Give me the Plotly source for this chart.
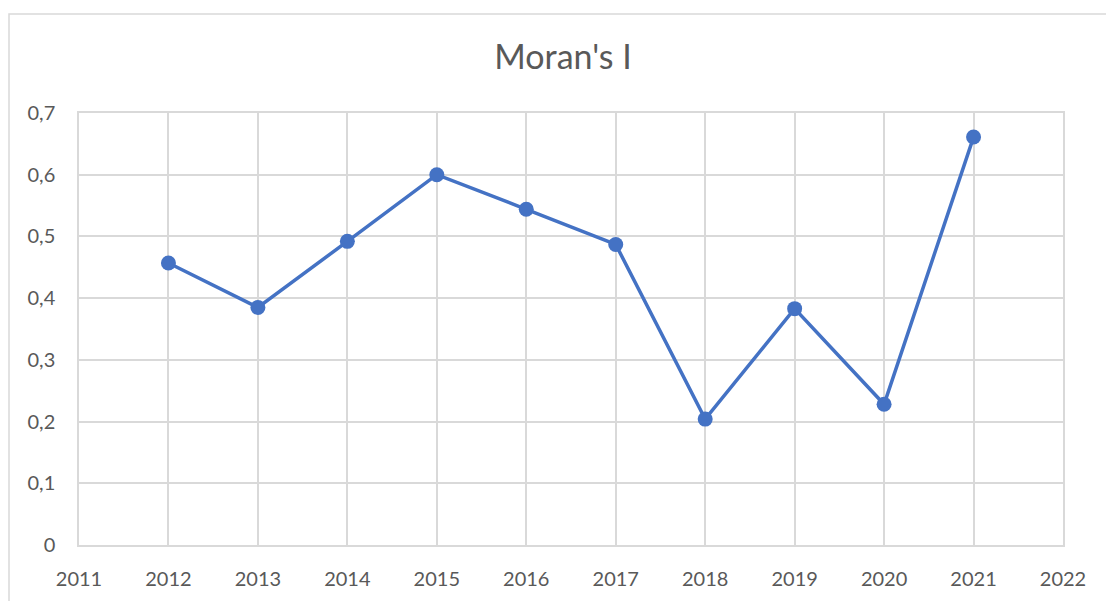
import plotly.graph_objects as go

years = [2012, 2013, 2014, 2015, 2016, 2017, 2018, 2019, 2020, 2021]
morans_i = [0.457, 0.385, 0.492, 0.600, 0.544, 0.487, 0.204, 0.383, 0.228, 0.661]
x_ticks = list(range(2011, 2023))
y_ticks = [0, 0.1, 0.2, 0.3, 0.4, 0.5, 0.6, 0.7]

W, H = 1106, 601
L, R, T, B = 79, 43, 113, 56
pw, ph = W - L - R, H - T - B

fig = go.Figure()
fig.add_trace(go.Scatter(
    x=years, y=morans_i, mode="lines+markers",
    line=dict(color="#4472C4", width=3.5),
    marker=dict(color="#4472C4", size=15),
    showlegend=False,
))

grid = "#d9d9d9"
fig.update_layout(
    width=W, height=H,
    margin=dict(l=L, r=R, t=T, b=B, autoexpand=False),
    paper_bgcolor="white", plot_bgcolor="white",
    separators=",.",
    font=dict(family="Lato, sans-serif", color="#595959", size=20),
    title=dict(text="Moran's I", x=563 / W, xanchor="center",
               y=1 - 57 / H, yanchor="middle",
               font=dict(size=34, color="#595959")),
    xaxis=dict(range=[2011, 2022], tickvals=x_ticks, ticktext=[str(v) for v in x_ticks],
               showgrid=True, gridcolor=grid, gridwidth=1.5,
               showline=True, linecolor=grid, linewidth=1.5, mirror=True,
               zeroline=False, ticks="", ticklabelstandoff=15, fixedrange=True),
    yaxis=dict(range=[0, 0.7], tickvals=y_ticks, tickformat=".1~f",
               showgrid=True, gridcolor=grid, gridwidth=1.5,
               showline=True, linecolor=grid, linewidth=1.5, mirror=True,
               zeroline=False, ticks="", ticklabelstandoff=18, fixedrange=True),
    shapes=[dict(type="rect", xref="paper", yref="paper",
                 x0=(9 - L) / pw, x1=(W + 5 - L) / pw,
                 y0=-(H + 5 - (H - B)) / ph, y1=1 + (T - 14) / ph,
                 line=dict(color="#d9d9d9", width=1.5), layer="below")],
)
fig.write_html("out.html", config={"displayModeBar": False},
               post_script="document.body.style.margin='0';")
